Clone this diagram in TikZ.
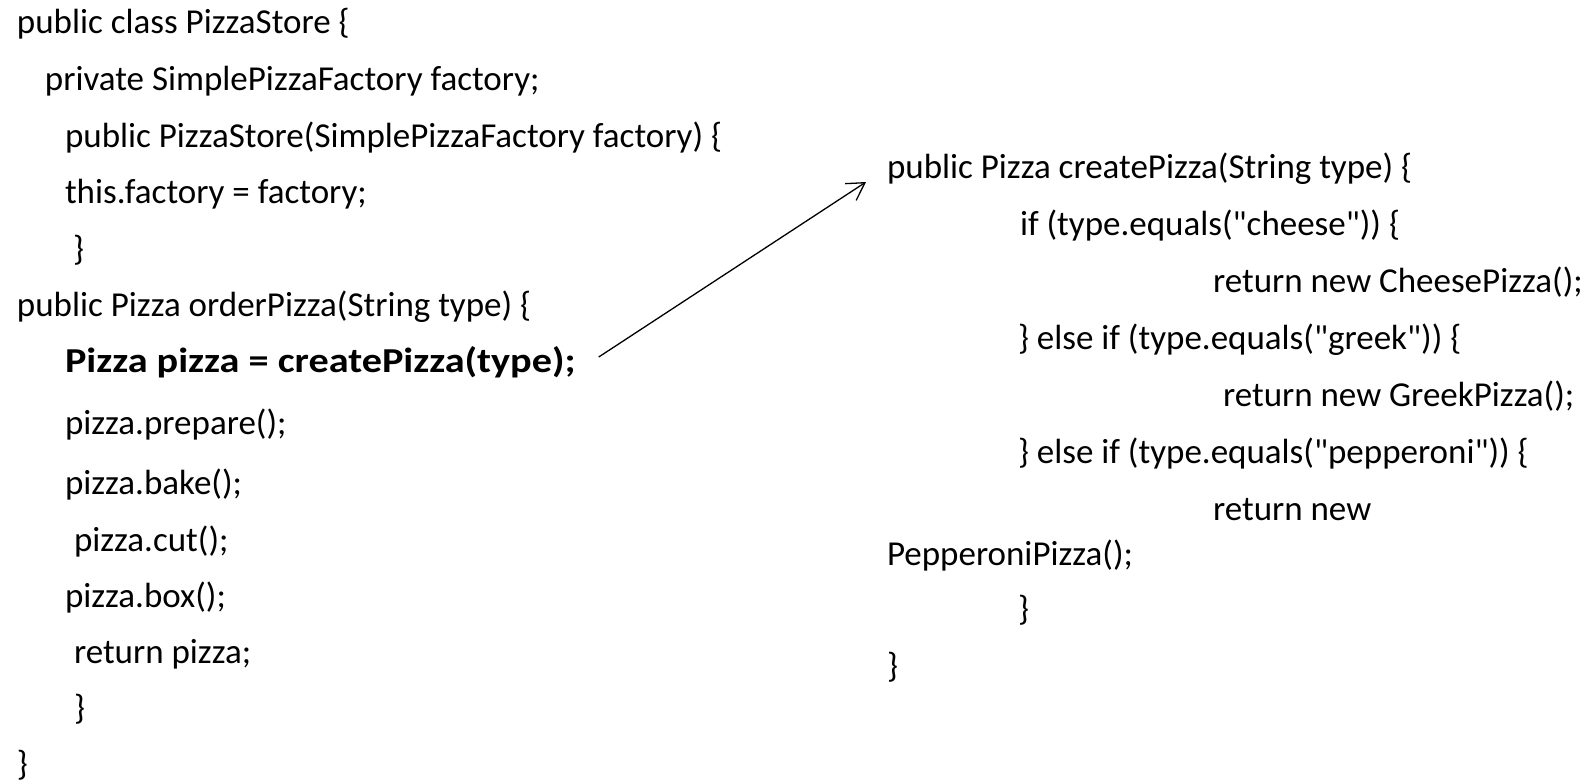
\documentclass[tikz,border=0pt]{standalone}
\usepackage{fontspec}
\setmainfont{Carlito}[Ligatures=TeXOff, BoldFeatures={FakeStretch=1.15}]
\usetikzlibrary{arrows.meta}
\tikzset{
  code/.style={anchor=base west, inner sep=0pt, outer sep=0pt, font=\fontsize{17.5}{21}\selectfont},
  codebold/.style={code, font=\fontsize{17.5}{21}\selectfont\bfseries},
  link/.style={line width=0.65pt, -{Straight Barb[length=8.5pt,width=10pt,line width=0.65pt]}}
}
\begin{document}
\begin{tikzpicture}[x=0.5pt,y=-0.5pt]
\useasboundingbox (0,0) rectangle (1586,783);
% left column
\node[code] (l1) at (17,33) {public class PizzaStore \{};
\node[code] (l2) at (45,90) {private SimplePizzaFactory factory;};
\node[code] (l3) at (65,147) {public PizzaStore(SimplePizzaFactory factory) \{};
\node[code] (l4) at (65,203) {this.factory = factory;};
\node[code] (l5) at (73,260) {\}};
\node[code] (l6) at (17,316) {public Pizza orderPizza(String type) \{};
\node[codebold] (l7) at (65,372) {Pizza pizza = createPizza(type);};
\node[code] (l8) at (65,434) {pizza.prepare();};
\node[code] (l9) at (65,494) {pizza.bake();};
\node[code] (l10) at (74,551) {pizza.cut();};
\node[code] (l11) at (65,607) {pizza.box();};
\node[code] (l12) at (74,663) {return pizza;};
\node[code] (l13) at (74,719) {\}};
\node[code] (l14) at (17,775) {\}};
% right column
\node[code] (r1) at (887,178) {public Pizza createPizza(String type) \{};
\node[code] (r2) at (1020,235) {if (type.equals("cheese")) \{};
\node[code] (r3) at (1213,292) {return new CheesePizza();};
\node[code] (r4) at (1018,349) {\} else if (type.equals("greek")) \{};
\node[code] (r5) at (1223,406) {return new GreekPizza();};
\node[code] (r6) at (1018,463) {\} else if (type.equals("pepperoni")) \{};
\node[code] (r7) at (1213,520) {return new};
\node[code] (r8) at (887,565) {PepperoniPizza();};
\node[code] (r9) at (1018,620) {\}};
\node[code] (r10) at (887,677) {\}};
% arrow
\coordinate (from) at ([xshift=11.5pt,yshift=7.5pt]l7.base east);
\coordinate (to) at ([xshift=-10.5pt,yshift=-2pt]r1.base west);
\draw[link] (from) -- (to);
\end{tikzpicture}
\end{document}
